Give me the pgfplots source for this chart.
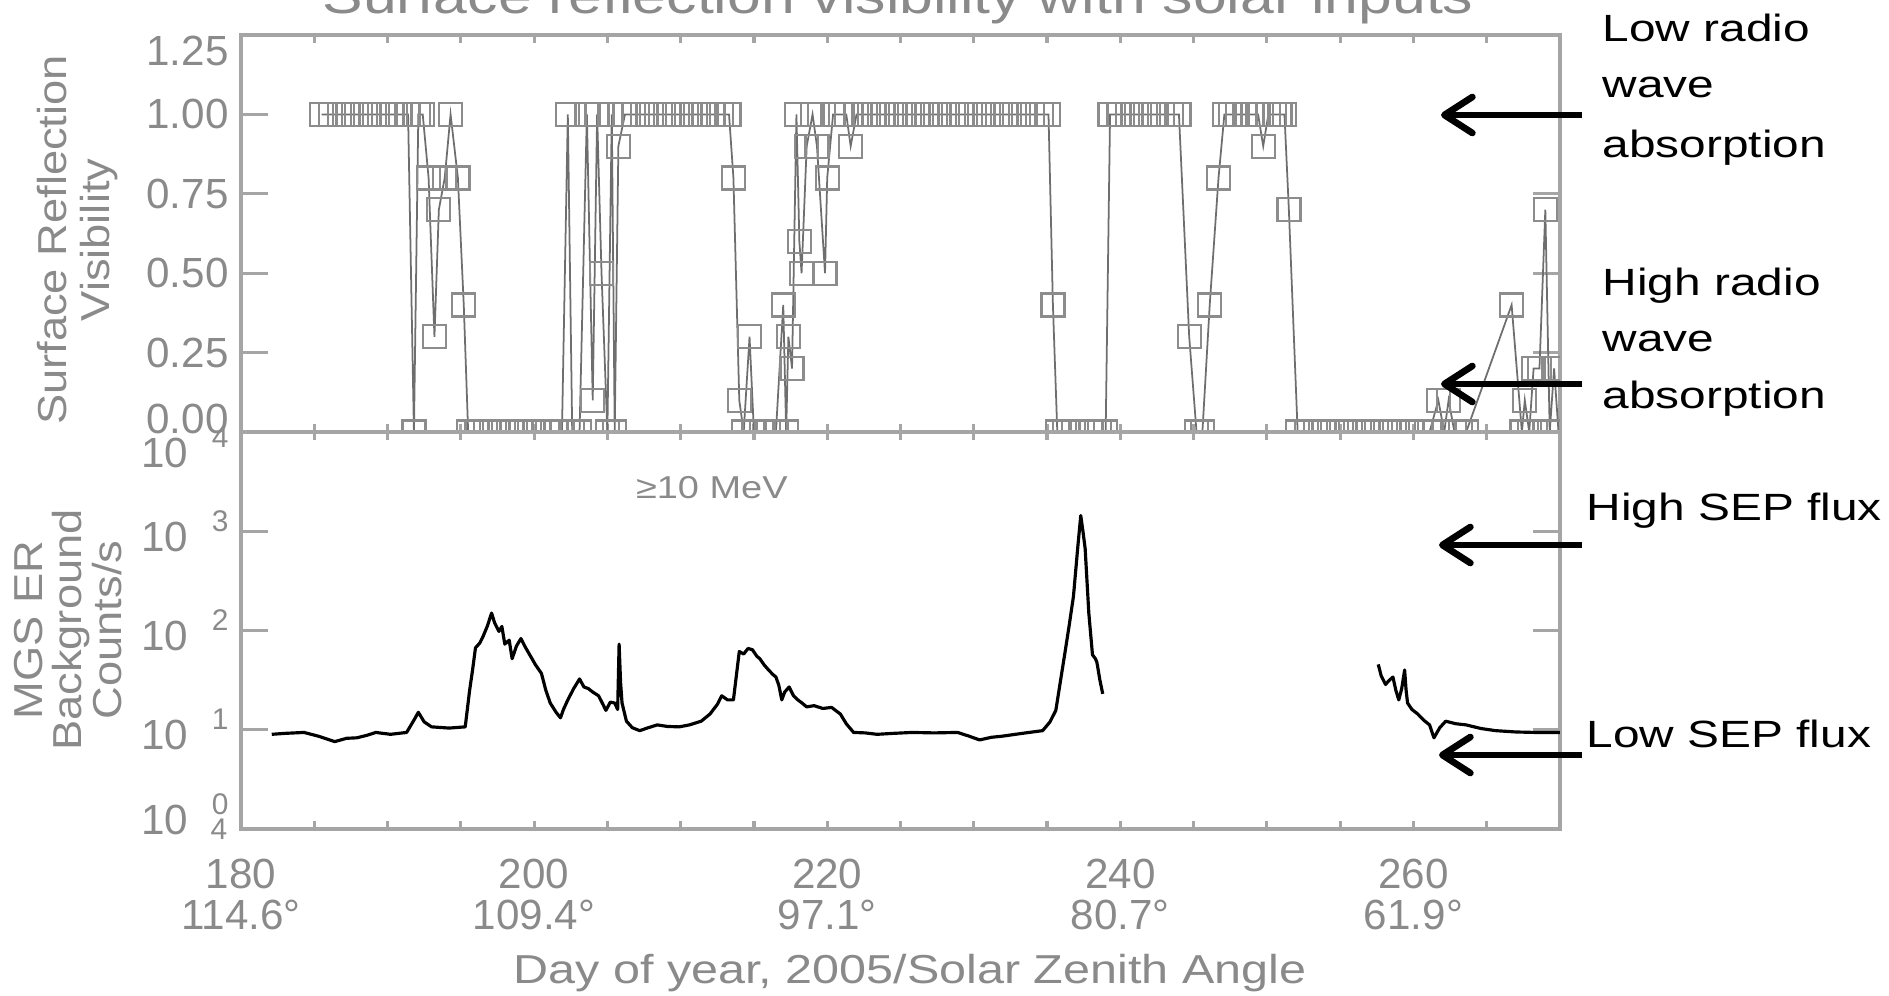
\documentclass[border=0pt]{standalone}
\usepackage{pgfplots}
\pgfplotsset{compat=1.18}
\usepackage{fontspec}
\setmainfont{Liberation Sans}
\newfontfamily\idl{Liberation Sans}
\newfontfamily\idlw{Liberation Sans}[FakeStretch=1.2]
\newfontfamily\idlr{Liberation Sans}[FakeStretch=1.12]
\newfontfamily\ann{Liberation Sans}[FakeStretch=1.26]
\usetikzlibrary{arrows.meta}
\definecolor{idltext}{RGB}{138,138,138}
\definecolor{idlaxis}{RGB}{165,165,165}
\definecolor{mk}{RGB}{140,140,140}
\definecolor{ln}{RGB}{110,110,110}
\newcommand\ex[1]{10\hspace{2.4mm}\raisebox{2mm}{\fontsize{8.5}{9}\selectfont #1}}
\pgfplotsset{idlax/.style={
  scale only axis, width=131.9mm, height=39.7mm,
  xmin=180, xmax=270,
  axis line style={idlaxis, line width=0.9pt},
  tick style={idlaxis, line width=0.9pt},
  major tick length=2.7mm,
  minor tick length=0.8mm,
  xtick={180,200,220,240,260},
  major x tick style={draw=none},
  minor xtick={180,185,...,270},
  tick align=inside,
  ticklabel style={font=\idl\fontsize{12}{11.6}\selectfont, text=idltext},
  /pgf/number format/assume math mode=true,
  clip mode=individual,
  clip marker paths=true,
}}
\begin{document}
\begin{tikzpicture}
% upper panel
\begin{axis}[idlax, at={(24.1mm,56.3mm)}, anchor=south west,
  ymin=0, ymax=1.25, ytick={0,0.25,0.5,0.75,1,1.25},
  yticklabels={,0.25,0.50,0.75,1.00,},
  xticklabels={},
]
\addplot[ln, line width=0.5pt, mark=square, mark size=1.15mm,
  mark options={mk, line width=0.65pt, solid}] coordinates {
(185.5,1)(186.1,1)(186.7,1)(187.3,1)(187.9,1)(188.5,1)(189.1,1)(189.7,1)(190.3,1)(190.9,1)(191.4,1)
(191.8,0)(192.1,1)(192.4,1)(192.8,0.8)(193.2,0.3)(193.5,0.7)(193.9,0.8)(194.3,1)(194.8,0.8)(195.2,0.4)(195.5,0)
(196.1,0)(196.7,0)(197.3,0)(197.9,0)(198.5,0)(199.1,0)(199.7,0)(200.3,0)(200.9,0)(201.5,0)(201.9,0)
(202.3,1)(202.6,0)(203.1,0)(203.6,1)(204.0,0.1)(204.3,1)(204.6,0.5)(205.0,0)(205.3,1)(205.5,0)(205.75,0.9)(206.2,1)
(206.8,1)(207.4,1)(208.0,1)(208.6,1)(209.2,1)(209.8,1)(210.4,1)(211.0,1)(211.6,1)(212.2,1)(212.8,1)(213.3,1)
(213.6,0.8)(214.0,0.1)(214.3,0)(214.7,0.3)(215.0,0)(215.5,0)(216.0,0)(216.5,0)(217.0,0.4)(217.2,0)(217.35,0.3)(217.6,0.2)
(217.9,1)(218.1,0.6)(218.25,0.5)(218.6,0.9)(219.0,1)(219.3,0.9)(219.85,0.5)(220.0,0.8)(220.4,1)(220.9,1)(221.3,1)(221.6,0.9)(222.0,1)
(222.6,1)(223.2,1)(223.8,1)(224.4,1)(225.0,1)(225.6,1)(226.2,1)(226.8,1)(227.4,1)(228.0,1)(228.6,1)
(229.2,1)(229.8,1)(230.4,1)(231.0,1)(231.6,1)(232.2,1)(232.8,1)(233.4,1)(234.0,1)(234.6,1)(235.1,1)
(235.4,0.4)(235.7,0)(236.2,0)(236.8,0)(237.4,0)(238.0,0)(238.6,0)(239.0,0)(239.3,1)
(239.9,1)(240.5,1)(241.1,1)(241.7,1)(242.3,1)(242.9,1)(243.5,1)(244.0,1)
(244.7,0.3)(245.2,0)(245.6,0)(246.1,0.4)(246.7,0.8)(247.1,1)
(247.5,1)(248.0,1)(248.5,1)(249.0,1)(249.4,1)(249.75,0.9)(250.1,1)(250.5,1)(250.9,1)(251.2,1)(251.5,0.7)
(252.1,0)(252.7,0)(253.3,0)(253.9,0)(254.5,0)(255.1,0)(255.7,0)(256.3,0)(256.9,0)(257.5,0)(258.1,0)
(258.7,0)(259.3,0)(259.9,0)(260.5,0)(261.1,0)
(261.7,0.1)(262.1,0)(262.4,0.1)(262.8,0)(263.2,0)(263.6,0)(266.7,0.4)(267.4,0)(267.6,0.1)(267.9,0)
(268.2,0.2)(268.6,0.2)(269.0,0.7)(269.3,0)(269.6,0.2)(269.9,0)
};
\node[anchor=east, font=\idl\fontsize{12}{12}\selectfont, text=idltext, yshift=-1.6mm] at (axis description cs:0,1) {1.25};
\node[anchor=east, font=\idl\fontsize{12}{12}\selectfont, text=idltext, yshift=1.3mm] at (axis description cs:0,0) {0.00};
\end{axis}
% lower panel
\begin{axis}[idlax, at={(24.1mm,16.6mm)}, anchor=south west,
  ymode=log, ymin=1, ymax=10000, ytick={1,10,100,1000,10000},
  yminorticks=false,
  yticklabels={,\ex{1},\ex{2},\ex{3},},
  xticklabels={{180\\114.6°},{200\\109.4°},{220\\97.1°},{240\\80.7°},{260\\61.9°}},
  xticklabel style={align=center, yshift=-1.8mm},
]
\addplot[black, line width=0.9pt, line join=round] coordinates {
(182.1,9.0)(183.0,9.2)(184.3,9.4)(185.3,8.6)(186.4,7.6)(187.2,8.2)(187.9,8.3)(188.6,8.8)(189.2,9.4)(190.2,9.0)
(191.3,9.4)(191.8,12.5)(192.1,15)(192.5,12)(193.0,10.7)(194.2,10.4)(195.3,10.7)(195.6,25)(195.8,40)(196.0,67)
(196.3,75)(196.5,86)(196.8,110)(197.1,150)(197.3,120)(197.6,98)(197.8,110)(198.0,73)(198.3,80)(198.5,52)
(198.8,70)(199.1,83)(199.4,68)(199.7,57)(200.1,45)(200.5,37)(200.8,25)(201.1,18.6)(201.5,15)(201.8,13.2)
(202.0,16)(202.3,20)(202.7,26)(203.1,32.5)(203.4,27)(203.7,26)(204.0,24)(204.4,22)(204.7,18)(204.9,15.7)
(205.2,19)(205.5,18.6)(205.7,16)(205.8,73)(205.9,30)(206.0,18.6)(206.3,12.2)(206.7,10.5)(207.2,9.8)(207.8,10.5)
(208.4,11.2)(209.1,10.8)(209.9,10.7)(210.6,11.2)(211.4,12.2)(212.0,14.4)(212.5,18)(212.8,22)(213.2,20)(213.6,20)
(214.0,61.5)(214.3,58)(214.6,66)(214.9,64)(215.2,55)(215.4,52)(215.7,45)(216.0,40)(216.3,36)(216.5,34)
(216.7,28)(216.9,20)(217.1,24)(217.4,27)(217.7,22)(218.0,20)(218.3,18.5)(218.6,17)(219.1,17.5)(219.7,16.4)
(220.3,16.8)(220.9,14.4)(221.3,11.5)(221.8,9.4)(222.6,9.3)(223.4,9.0)(224.5,9.2)(225.8,9.4)(227.3,9.3)(228.9,9.4)
(229.7,8.6)(230.4,7.9)(231.2,8.4)(231.9,8.6)(233.3,9.2)(234.7,9.8)(235.2,12)(235.6,15.7)(235.9,30)(236.2,57)
(236.5,110)(236.8,220)(237.1,700)(237.3,1440)(237.45,1000)(237.6,670)(237.85,150)(238.1,57)(238.3,52)(238.4,48)
(238.6,32)(238.8,23)
};
\addplot[black, line width=0.9pt, line join=round] coordinates {
(257.6,45.6)(257.8,35)(258.1,28.6)(258.3,31)(258.6,34)(258.8,25)(259.0,20)(259.2,26)(259.4,40)(259.5,25)
(259.6,18.6)(259.9,16)(260.3,14.4)(260.7,12.5)(261.1,11.2)(261.4,8.3)(261.8,10.5)(262.2,12.2)(262.9,11.5)(263.6,11.2)
(264.6,10.3)(265.6,9.8)(267.0,9.5)(268.3,9.4)(270.0,9.4)
};
\node[anchor=east, font=\idl\fontsize{12}{12}\selectfont, text=idltext, yshift=-1.5mm] at (axis description cs:0,1) {\ex{4}};
\node[anchor=east, font=\idl\fontsize{12}{12}\selectfont, text=idltext, yshift=1.5mm] at (axis description cs:0,0) {\ex{0}};
\node[anchor=east, font=\idl\fontsize{8.5}{9}\selectfont, text=idltext, inner sep=1.3mm] at (axis description cs:0,0) {4};
\node[font=\idlw\fontsize{9}{10}\selectfont, text=idltext] at (axis description cs:0.357,0.86) {≥10 MeV};
\end{axis}
% titles and labels
\node[font=\idlw\fontsize{14.4}{16}\selectfont, text=idltext, anchor=base] at (89.8mm,98.1mm) {Surface reflection visibility with solar inputs};
\node[font=\idlw\fontsize{11.5}{13}\selectfont, text=idltext, anchor=base] at (91.0mm,1.2mm) {Day of year, 2005/Solar Zenith Angle};
\node[rotate=90, align=center, font=\idlr\fontsize{11.5}{12.2}\selectfont, text=idltext] at (7.75mm,75.5mm) {Surface Reflection\\Visibility};
\node[rotate=90, align=center, font=\idlr\fontsize{11.5}{11.3}\selectfont, text=idltext] at (6.8mm,36.5mm) {MGS ER\\Background\\Counts/s};
% annotations
\begin{scope}[every node/.style={anchor=base west, inner sep=0pt, font=\ann\fontsize{10.8}{12}\selectfont}]
\node at (160.2mm,95.3mm) {Low radio};
\node at (160.2mm,89.7mm) {wave};
\node at (160.2mm,83.8mm) {absorption};
\node at (160.2mm,70.0mm) {High radio};
\node at (160.2mm,64.4mm) {wave};
\node at (160.2mm,58.7mm) {absorption};
\node at (158.6mm,47.5mm) {High SEP flux};
\node at (158.6mm,24.8mm) {Low SEP flux};
\end{scope}
\begin{scope}[line width=1.9pt, -{Straight Barb[length=2.8mm,width=3.6mm,round]}]
\draw (158.2mm,88.0mm) -- (144.1mm,88.0mm);
\draw (158.2mm,61.1mm) -- (144.1mm,61.1mm);
\draw (158.2mm,45.0mm) -- (143.9mm,45.0mm);
\draw (158.2mm,24.0mm) -- (143.9mm,24.0mm);
\end{scope}
\pgfresetboundingbox
\useasboundingbox (0,0) rectangle (188.9mm,99.5mm);
\end{tikzpicture}
\end{document}
